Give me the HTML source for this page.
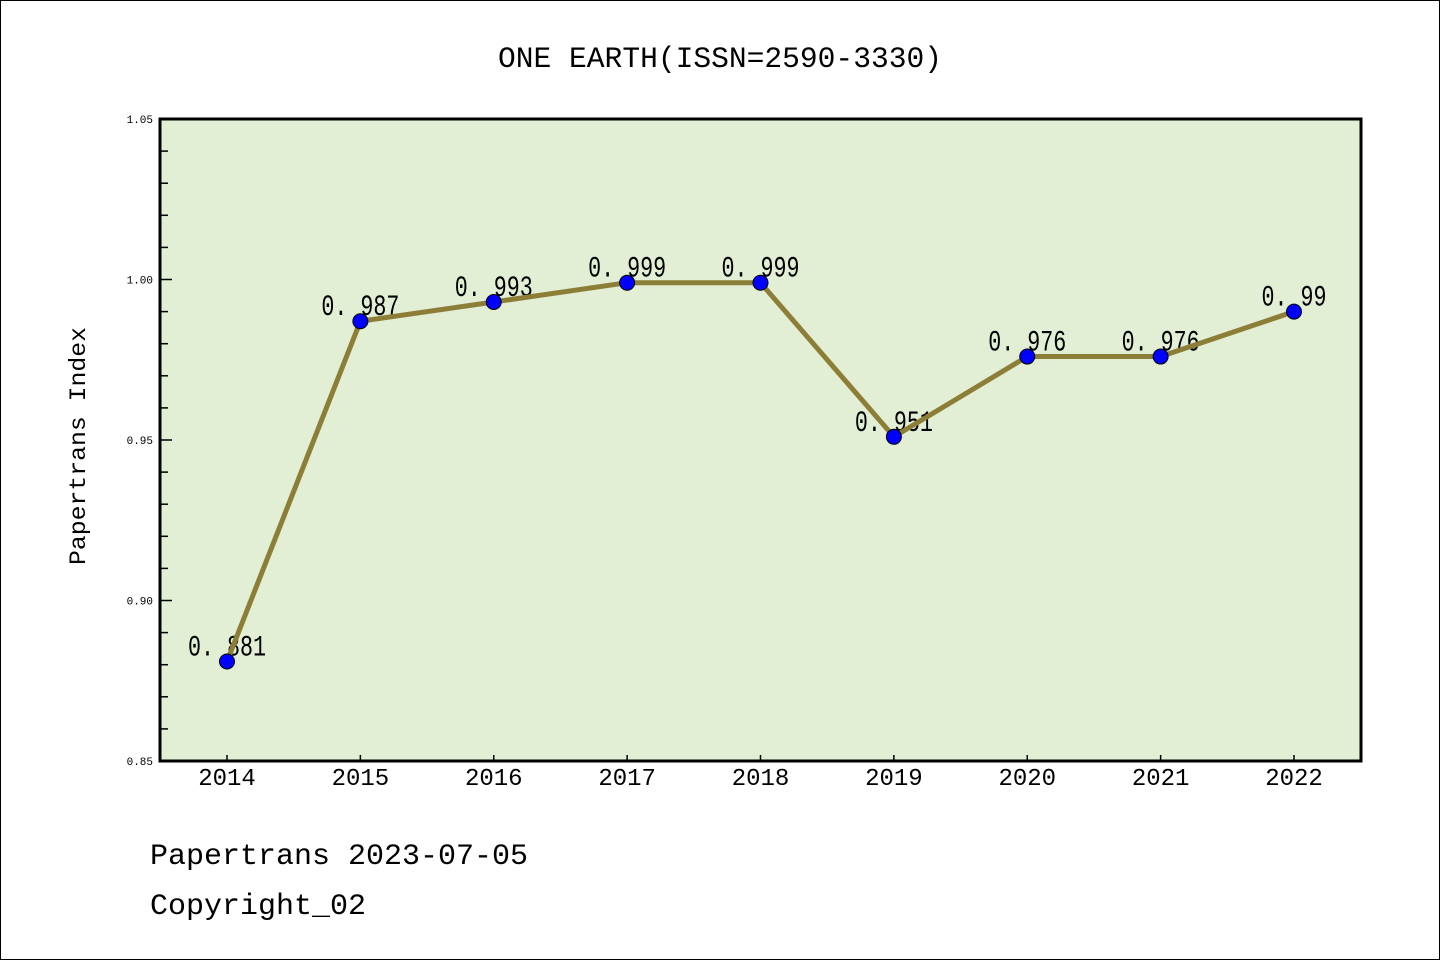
<!DOCTYPE html>
<html><head><meta charset="utf-8"><style>
html,body{margin:0;padding:0;background:#fff}
svg{display:block}
text{font-family:"Liberation Mono",monospace}
</style></head><body>
<svg id="chart" width="1440" height="960" viewBox="0 0 1440 960">
<rect x="0.5" y="0.5" width="1439" height="959" fill="#fff" stroke="#000" stroke-width="1"/>
<text x="720" y="67" text-anchor="middle" font-size="30" fill="#000" textLength="444" lengthAdjust="spacingAndGlyphs">ONE EARTH(ISSN=2590-3330)</text>
<rect x="160" y="119" width="1201" height="642" fill="#e2efd5"/>
<g id="yticks"></g><g id="xticks"></g><g id="labels"></g><g id="series"></g>
<rect x="160" y="119" width="1201" height="642" fill="none" stroke="#000" stroke-width="3"/>
<text transform="translate(85,446) rotate(-90)" text-anchor="middle" font-size="23" fill="#000" textLength="238" lengthAdjust="spacingAndGlyphs">Papertrans Index</text>
<text x="150" y="864" font-size="30" fill="#000">Papertrans 2023-07-05</text>
<text x="150" y="914" font-size="30" fill="#000">Copyright_02</text>
</svg>
<script>
const years = ["2014","2015","2016","2017","2018","2019","2020","2021","2022"];
const values = [0.881,0.987,0.993,0.999,0.999,0.951,0.976,0.976,0.99];
const valueLabels = ["0.881","0.987","0.993","0.999","0.999","0.951","0.976","0.976","0.99"];
const yTickLabels = ["0.85","0.90","0.95","1.00","1.05"];
const yMin = 0.85, yMax = 1.05;
const NS = "http://www.w3.org/2000/svg";
const X0 = 227, X1 = 1294, PT = 119, PB = 761, PL = 160;
function xs(i){ return X0 + (X1 - X0) * i / (years.length - 1); }
function ys(v){ return PB - (v - yMin) / (yMax - yMin) * (PB - PT); }
function mk(tag, attrs, parent){ const e = document.createElementNS(NS, tag); for (const k in attrs) e.setAttribute(k, attrs[k]); parent.appendChild(e); return e; }
const yt = document.getElementById('yticks');
for (let k = 0; k <= 20; k++) {
  const v = yMin + k * 0.01, y = ys(v), major = k % 5 === 0;
  const t = mk('line', {x1: PL, x2: PL + (major ? 12 : 8), y1: y, y2: y, stroke: '#000', 'stroke-width': 1.5}, yt);
  
  
  if (major) {
    const l = mk('text', {x: PL - 7, y: y + 4, 'text-anchor': 'end', 'font-size': 11, fill: '#000', 'font-family': 'Liberation Sans, sans-serif'}, yt);
    l.textContent = yTickLabels[k / 5];
    
    
  }
}
const xt = document.getElementById('xticks');
years.forEach((yr, i) => {
  const x = xs(i);
  const t = mk('line', {x1: x, x2: x, y1: PB, y2: PB - 6, stroke: '#000', 'stroke-width': 1.5}, xt);
  
  
  const l = mk('text', {x: x, y: 785, 'text-anchor': 'middle', 'font-size': 24, fill: '#000'}, xt);
  l.textContent = yr;
  
  
});
const lb = document.getElementById('labels');
values.forEach((v, i) => {
  const s = valueLabels[i].replace('.', '. ');
  const l = mk('text', {x: xs(i), y: ys(v) - 6, 'text-anchor': 'middle', 'font-size': 30, fill: '#000', textLength: s.length * 13, lengthAdjust: 'spacingAndGlyphs'}, lb);
  l.textContent = s;
  
  
});
const sg = document.getElementById('series');
const line = mk('polyline', {points: values.map((v, i) => xs(i) + ',' + ys(v)).join(' '), fill: 'none', stroke: '#8c7e37', 'stroke-width': 5, 'stroke-linejoin': 'round'}, sg);


values.forEach((v, i) => {
  const c = mk('circle', {cx: xs(i), cy: ys(v), r: 7.5, fill: '#0000ff', stroke: '#000', 'stroke-width': 1}, sg);
  
  
});
</script>
</body></html>
